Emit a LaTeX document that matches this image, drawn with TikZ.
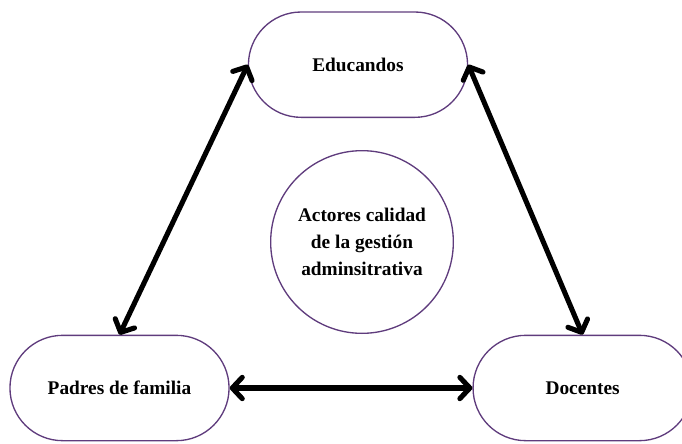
\documentclass[tikz,border=0pt]{standalone}
\usepackage{fontspec}
\setmainfont{Liberation Serif}
\usetikzlibrary{arrows.meta, positioning, shapes.misc}
\definecolor{borde}{RGB}{95,60,125}

\begin{document}
\begin{tikzpicture}[x=0.75pt, y=-0.75pt,
        actor/.style={rounded rectangle, draw=borde, line width=1pt, minimum width=171pt, minimum height=79pt, font=\fontsize{14.5}{21}\selectfont\bfseries},
        centro/.style={circle, draw=borde, line width=1pt, minimum size=137pt, align=center, font=\fontsize{14.5}{20}\selectfont\bfseries},
        flecha/.style={{Straight Barb[length=7.5pt, width=16pt, round]}-{Straight Barb[length=7.5pt, width=16pt, round]}, line width=3.8pt}
    ]
    \useasboundingbox (0,0) rectangle (682,443);

    % centro
    \node[centro] (actores) at (362,242) {Actores calidad\\de la gestión\\adminsitrativa};

    % actores
    \node[actor, above=24pt of actores, xshift=-3pt] (educandos) {Educandos};
    \node[actor] (padres) at (119.5,388) {Padres de familia};
    \node[actor, right=182pt of padres] (docentes) {Docentes};

    % conexiones
    \draw[flecha] (educandos.west) -- (padres.north);
    \draw[flecha] (educandos.east) -- (docentes.north);
    \draw[flecha] (padres.east) -- (docentes.west);

\end{tikzpicture}
\end{document}
